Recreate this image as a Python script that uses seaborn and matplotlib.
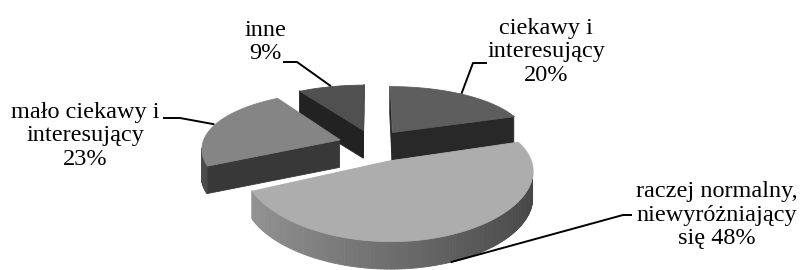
import numpy as np
import matplotlib
matplotlib.use("Agg")
import matplotlib.pyplot as plt
from matplotlib.collections import PolyCollection
import seaborn as sns

# dane z wykresu
labels = ["ciekawy i\ninteresujący\n20%",
          "raczej normalny,\nniewyróżniający\nsię 48%",
          "mało ciekawy i\ninteresujący\n23%",
          "inne\n9%"]
shares = [20, 48, 23, 9]

top_colors = ["#5e5e5e", "#adadad", "#858585", "#505050"]
side_colors = ["#282828", "#3c3c3c", "#383838", "#222222"]
explode = [0.25, 0.30, 0.25, 0.25]

# polozenie etykiet (srodek tekstu) i linie odniesienia
label_xy = [(546, 52), (717, 215), (85, 136), (265, 42)]
leader_elbow = [(473, 63), (623, 215), (180, 118), (297, 62)]
leader_end = [(487, 63), (632, 215), (163, 118), (283, 62)]

sns.set_theme(style="white")
plt.rcParams["font.family"] = ["Liberation Serif", "DejaVu Serif"]

# widok "3D" (perspektywa jak w Excelu)
elev = np.radians(22)
dist_x, scale_x = 7.0, 963.0
dist_y, scale_y = 5.0, 778.0
cx, cy = 372.3, 143.4
height = 28  # grubosc tortu w px


def proj(X, Y, z=0.0):
    sx = scale_x * X / (dist_x + Y * np.cos(elev))
    sy = scale_y * Y * np.sin(elev) / (dist_y + Y * np.cos(elev))
    return cx + sx, cy - sy + z


def facing(a_top, b_top):
    # czworokat A_top, B_top, B_bottom, A_bottom; widoczny gdy pole < 0
    pts = [a_top, b_top, (b_top[0], b_top[1] + height), (a_top[0], a_top[1] + height)]
    area = 0.0
    for (x0, y0), (x1, y1) in zip(pts, pts[1:] + pts[:1]):
        area += x0 * y1 - x1 * y0
    return area < 0, pts


fig = plt.figure(figsize=(8.01, 2.70), dpi=100)
ax = fig.add_axes([0, 0, 1, 1])
ax.set_xlim(0, 801)
ax.set_ylim(270, 0)
ax.axis("off")

bounds = np.concatenate([[0], np.cumsum(shares)]) / sum(shares) * 2 * np.pi
offs = []
for i in range(len(shares)):
    mid = (bounds[i] + bounds[i + 1]) / 2
    offs.append((explode[i] * np.sin(mid), explode[i] * np.cos(mid)))

order = sorted(range(len(shares)), key=lambda i: -offs[i][1])

for i in order:
    a1, a2 = bounds[i], bounds[i + 1]
    ox, oy = offs[i]
    center = proj(ox, oy)
    arc = np.linspace(a1, a2, 150)
    rim = [proj(ox + np.sin(t), oy + np.cos(t)) for t in arc]

    polys, cols = [], []
    # boki promieniowe
    for a, b in [(center, rim[0]), (rim[-1], center)]:
        ok, pts = facing(a, b)
        if ok:
            polys.append(pts)
            cols.append(side_colors[i])
    # bok zewnetrzny z cieniowaniem
    base = 0.43 if i == 1 else int(side_colors[i][1:3], 16) / 255
    for k in range(len(arc) - 1):
        ok, pts = facing(rim[k], rim[k + 1])
        if ok:
            pm = (arc[k] + arc[k + 1]) / 2
            g = float(np.clip(base * (1 - 0.37 * np.sin(pm)), 0, 1))
            polys.append(pts)
            cols.append((g, g, g))
    if polys:
        ax.add_collection(PolyCollection(polys, facecolors=cols, edgecolors=cols, linewidths=0.6))
    # gora
    ax.add_collection(PolyCollection([[center] + rim], facecolors=top_colors[i],
                                     edgecolors=top_colors[i], linewidths=0.6))

# etykiety i linie odniesienia
for i in range(len(shares)):
    mid = (bounds[i] + bounds[i + 1]) / 2
    ox, oy = offs[i]
    p0 = proj(ox + np.sin(mid - 0.01), oy + np.cos(mid - 0.01))
    p1 = proj(ox + np.sin(mid + 0.01), oy + np.cos(mid + 0.01))
    front, _ = facing(p0, p1)
    anchor = proj(ox + np.sin(mid), oy + np.cos(mid), height if front else 0)
    xs = [anchor[0], leader_elbow[i][0], leader_end[i][0]]
    ys = [anchor[1], leader_elbow[i][1], leader_end[i][1]]
    ax.plot(xs, ys, color="black", lw=1.4, solid_capstyle="butt")
    ax.text(label_xy[i][0], label_xy[i][1], labels[i], ha="center", va="center",
            multialignment="center", fontsize=17.5, linespacing=1.18, color="black")

fig.savefig("out.png", dpi=100)
